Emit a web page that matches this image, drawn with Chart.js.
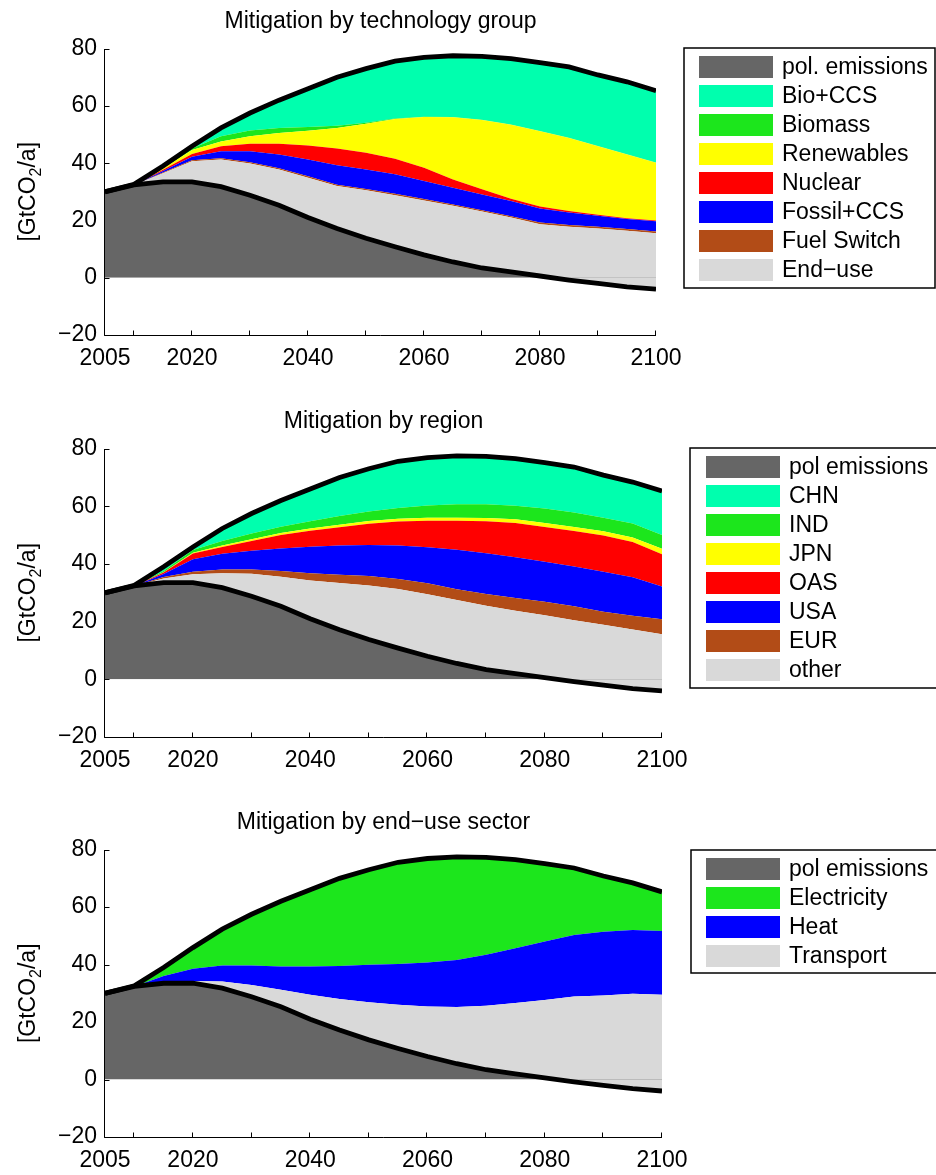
<!DOCTYPE html>
<html lang="en">
<head>
<meta charset="UTF-8">
<script src="https://cdn.jsdelivr.net/npm/chart.js@4.4.0/dist/chart.umd.min.js"></script>
<title>Mitigation wedges</title>
<style>
  body { margin: 0; background: #fff; }
  .panel { position: absolute; left: 0; width: 936px; }
</style>
</head>
<body>
<div class="panel" style="top:0"><canvas id="c1" width="936" height="400"></canvas></div>
<div class="panel" style="top:400px"><canvas id="c2" width="936" height="400"></canvas></div>
<div class="panel" style="top:801px"><canvas id="c3" width="936" height="374"></canvas></div>

<script>
const years = [2005, 2010, 2015, 2020, 2025, 2030, 2035, 2040, 2045, 2050,
               2055, 2060, 2065, 2070, 2075, 2080, 2085, 2090, 2095, 2100];
const xTicks = [2005, 2010, 2020, 2030, 2040, 2050, 2060, 2070, 2080, 2090, 2100];
const xTickLabels = [2005, 2020, 2040, 2060, 2080, 2100];
const yTicks = [-20, 0, 20, 40, 60, 80];

// GtCO2/a
const baseline = [30, 32.6, 39, 45.9, 52.3, 57.5, 62, 66, 70, 73, 75.6, 76.9, 77.5, 77.3, 76.5, 75.1, 73.6, 70.8, 68.4, 65.3];
const polEmissions = [30, 32.4, 33.5, 33.5, 31.8, 28.8, 25.3, 21, 17.2, 13.8, 10.8, 8, 5.5, 3.4, 2, 0.6, -0.8, -2, -3.2, -4];

// wedges by technology group (Bio+CCS is the rest up to baseline)
const endUse     = [0, 0, 3.0, 7.2, 9.5, 11.1, 12.5, 13.9, 14.8, 16.7, 18, 19, 19.6, 19.7, 19, 18.1, 18.6, 19.2, 19.6, 19.5];
const fuelSwitch = [0, 0, 0.2, 0.3, 0.4, 0.4, 0.4, 0.5, 0.5, 0.5, 0.5, 0.5, 0.5, 0.5, 0.5, 0.6, 0.6, 0.6, 0.6, 0.6];
const fossilCCS  = [0, 0, 0.6, 1.2, 2.5, 3.9, 4.8, 5.9, 6.8, 6.8, 6.8, 6.3, 5.8, 5.5, 5.3, 4.9, 4.4, 3.8, 3.5, 3.6];
const nuclear    = [0, 0, 0.4, 1.0, 1.7, 2.6, 3.8, 4.9, 5.8, 5.8, 5.4, 4.6, 2.9, 1.8, 0.8, 0.7, 0.5, 0.4, 0.3, 0.3];
const renewables = [0, 0, 0.4, 1.4, 1.7, 2.6, 3.7, 5.1, 7.2, 10.2, 13.9, 17.7, 21.7, 24.2, 25.8, 26.2, 25.5, 23.9, 22.2, 20.1];
const biomass    = [0, 0, 0.3, 0.5, 1.8, 2.0, 1.8, 1.3, 0.8, 0.3, 0.2, 0.1, 0.1, 0.1, 0.1, 0.1, 0.1, 0.1, 0.1, 0.1];

// wedges by region (CHN is the rest)
const other = [0, 0, 1.5, 2.9, 5.0, 7.8, 10.3, 13.3, 16.2, 18.7, 20.5, 21.5, 22.0, 22.1, 21.8, 21.6, 21.3, 20.9, 20.5, 19.6];
const eur   = [0, 0, 0.5, 0.9, 1.3, 1.5, 2.0, 2.5, 2.9, 3.3, 3.5, 3.8, 3.7, 4.1, 4.4, 4.7, 4.8, 4.5, 4.7, 5.2];
const usa   = [0, 0, 1.0, 4.3, 5.4, 6.5, 7.8, 9.2, 10.1, 10.8, 11.6, 12.5, 13.7, 14.1, 14.1, 13.9, 13.8, 13.9, 13.4, 11.4];
const oas   = [0, 0, 0.5, 2.0, 2.4, 3.4, 4.6, 5.5, 6.3, 7.3, 8.3, 9.2, 10.1, 11.1, 11.9, 12.0, 12.3, 12.6, 12.2, 11.2];
const jpn   = [0, 0, 0.1, 0.3, 0.5, 0.6, 0.7, 0.8, 0.9, 1.0, 1.0, 1.0, 1.0, 1.1, 1.3, 1.4, 1.4, 1.4, 1.6, 1.9];
const ind   = [0, 0, 0.5, 0.9, 1.6, 2.0, 2.2, 2.5, 3.0, 3.3, 3.7, 4.3, 4.7, 4.8, 4.7, 5.0, 5.0, 4.7, 4.8, 4.7];

// wedges by end-use sector (Electricity is the rest)
const transport = [0, 0, 0.6, 0.8, 2.3, 4.1, 5.9, 8.5, 10.8, 13.1, 15.2, 17.4, 19.7, 22.3, 24.6, 27.1, 29.7, 31.2, 33.0, 33.5];
const heat      = [0, 0, 1.9, 4.2, 5.6, 6.8, 8.1, 9.8, 11.5, 13.0, 14.2, 15.3, 16.4, 17.7, 19.1, 20.3, 21.4, 22.2, 22.2, 22.2];

const C = {
  pol: '#666666', cyan: '#00ffae', green: '#1ce61c', yellow: '#ffff00',
  red: '#ff0000', blue: '#0000ff', brown: '#b24c17', light: '#d9d9d9'
};

const FONT = "'Liberation Sans', Arial, Helvetica, sans-serif";
Chart.defaults.font.family = FONT;
Chart.defaults.font.size = 23;
Chart.defaults.color = '#000';

function pts(arr) { return years.map((y, i) => ({x: y, y: arr[i]})); }

const decor = {
  id: 'decor',
  beforeDatasetsDraw(chart, args, o) {
    const {ctx, chartArea: a, scales: {x, y}} = chart;
    const L = Math.round(a.left) - 0.5, B = Math.round(a.bottom) + 0.5;
    ctx.save();
    ctx.strokeStyle = '#000';
    ctx.lineWidth = 1;
    ctx.beginPath();
    ctx.moveTo(L, Math.round(a.top));
    ctx.lineTo(L, B);
    ctx.lineTo(Math.round(a.right), B);
    xTicks.forEach(v => {
      const px = Math.round(x.getPixelForValue(v)) - 0.5;
      ctx.moveTo(px, B); ctx.lineTo(px, B - 5);
    });
    yTicks.forEach(v => {
      const py = Math.round(y.getPixelForValue(v)) + 0.5;
      ctx.moveTo(L, py); ctx.lineTo(L + 5, py);
    });
    ctx.stroke();
    ctx.restore();
  },
  afterDraw(chart, args, o) {
    const {ctx, chartArea: a} = chart;
    const lg = o.legend;
    ctx.save();
    // legend
    ctx.strokeStyle = '#000';
    ctx.lineWidth = 1.5;
    ctx.strokeRect(lg.left, lg.top, lg.right - lg.left, lg.bottom - lg.top);
    ctx.font = '23px ' + FONT;
    ctx.textBaseline = 'middle';
    ctx.textAlign = 'left';
    o.order.forEach((idx, k) => {
      const d = chart.data.datasets[idx];
      const top = lg.top + 8 + k * 29;
      ctx.fillStyle = d.swatch || d.backgroundColor;
      ctx.fillRect(lg.swatchX, top, 74, 22);
      ctx.fillStyle = '#000';
      ctx.fillText(d.label, lg.swatchX + 83, top + 12);
    });
    // y axis label with subscript
    const big = '23px ' + FONT, small = '16px ' + FONT;
    const parts = [['[GtCO', big, 0], ['2', small, 6], ['/a]', big, 0]];
    let w = 0;
    parts.forEach(p => { ctx.font = p[1]; p.push(ctx.measureText(p[0]).width); w += p[3]; });
    ctx.translate(o.ylabelX, (a.top + a.bottom) / 2);
    ctx.rotate(-Math.PI / 2);
    ctx.textBaseline = 'alphabetic';
    let cx = -w / 2;
    parts.forEach(p => { ctx.font = p[1]; ctx.fillText(p[0], cx, p[2]); cx += p[3]; });
    ctx.restore();
  }
};

function makeChart(id, cfg) {
  const ds = [];
  ds.push({label: 'baseline', data: pts(baseline), borderColor: '#000', borderWidth: 4.8, fill: false});
  ds.push({label: cfg.polLabel, data: pts(polEmissions), borderColor: '#000', borderWidth: 4.8,
           swatch: C.pol, fill: {target: 'origin', above: C.pol, below: 'rgba(0,0,0,0)'}});
  let cum = polEmissions.slice();
  cfg.layers.forEach(l => {
    cum = cum.map((v, j) => v + l.data[j]);
    ds.push({label: l.label, data: pts(cum), borderColor: 'rgba(0,0,0,0)', borderWidth: 0,
             backgroundColor: l.color, fill: ds.length - 1});
  });
  ds.push({label: cfg.top.label, data: pts(baseline), borderColor: 'rgba(0,0,0,0)', borderWidth: 0,
           backgroundColor: cfg.top.color, fill: ds.length - 1});
  // legend: pol, then from top of stack downwards
  const order = [1];
  for (let i = ds.length - 1; i >= 2; i--) order.push(i);

  return new Chart(document.getElementById(id), {
    type: 'line',
    data: {datasets: ds},
    options: {
      responsive: false,
      devicePixelRatio: 1,
      animation: false,
      events: [],
      elements: {point: {radius: 0}, line: {tension: 0, borderJoinStyle: 'miter', borderCapStyle: 'butt'}},
      layout: {padding: {left: 0, top: 0, right: 936 - cfg.right, bottom: cfg.canvasH - cfg.bottom - 30}},
      plugins: {
        legend: {display: false},
        tooltip: {enabled: false},
        title: {display: true, text: cfg.title, fullSize: false, color: '#000',
                font: {size: 23, weight: 'normal'}, padding: {top: 8, bottom: 13}},
        decor: {legend: cfg.legend, order: order, ylabelX: 35}
      },
      scales: {
        x: {
          type: 'linear', min: 2005, max: 2100,
          grid: {display: false, drawTicks: false},
          border: {display: false},
          afterBuildTicks: s => { s.ticks = xTicks.map(v => ({value: v})); },
          afterFit: s => { s.height = 30; },
          ticks: {autoSkip: false, maxRotation: 0, padding: 10, color: '#000',
                  callback: v => xTickLabels.includes(v) ? String(v) : ''}
        },
        y: {
          min: -20, max: 80,
          grid: {display: false, drawTicks: false},
          border: {display: false},
          afterBuildTicks: s => { s.ticks = yTicks.map(v => ({value: v})); },
          afterFit: s => { s.width = 105; },
          ticks: {padding: 8, color: '#000', callback: v => String(v).replace('-', '\u2212')}
        }
      }
    },
    plugins: [decor]
  });
}

makeChart('c1', {
  title: 'Mitigation by technology group', polLabel: 'pol. emissions',
  right: 656, bottom: 335, canvasH: 400,
  legend: {left: 684, top: 48, right: 935, bottom: 288, swatchX: 699},
  layers: [
    {label: 'End\u2212use', color: C.light, data: endUse},
    {label: 'Fuel Switch', color: C.brown, data: fuelSwitch},
    {label: 'Fossil+CCS', color: C.blue, data: fossilCCS},
    {label: 'Nuclear', color: C.red, data: nuclear},
    {label: 'Renewables', color: C.yellow, data: renewables},
    {label: 'Biomass', color: C.green, data: biomass}
  ],
  top: {label: 'Bio+CCS', color: C.cyan}
});

makeChart('c2', {
  title: 'Mitigation by region', polLabel: 'pol emissions',
  right: 662, bottom: 337, canvasH: 400,
  legend: {left: 690, top: 48, right: 945, bottom: 288, swatchX: 706},
  layers: [
    {label: 'other', color: C.light, data: other},
    {label: 'EUR', color: C.brown, data: eur},
    {label: 'USA', color: C.blue, data: usa},
    {label: 'OAS', color: C.red, data: oas},
    {label: 'JPN', color: C.yellow, data: jpn},
    {label: 'IND', color: C.green, data: ind}
  ],
  top: {label: 'CHN', color: C.cyan}
});

makeChart('c3', {
  title: 'Mitigation by end\u2212use sector', polLabel: 'pol emissions',
  right: 662, bottom: 336, canvasH: 374,
  legend: {left: 691, top: 49, right: 945, bottom: 172, swatchX: 706},
  layers: [
    {label: 'Transport', color: C.light, data: transport},
    {label: 'Heat', color: C.blue, data: heat}
  ],
  top: {label: 'Electricity', color: C.green}
});
</script>
</body>
</html>
